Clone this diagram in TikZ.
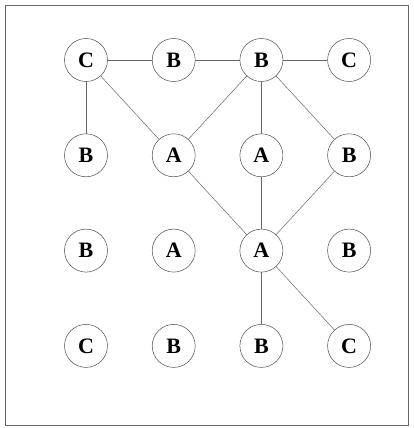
\documentclass[tikz,border=0pt]{standalone}
\usepackage{fontspec}
\setmainfont{Liberation Serif}
\begin{document}
\begin{tikzpicture}[x=1pt,y=-1pt,
  cell/.style={circle,draw=black!70,line width=0.5pt,minimum size=43pt,inner sep=0pt,
    font=\fontsize{22}{24}\selectfont\bfseries},
  link/.style={draw=black!60,line width=0.5pt}]
  \useasboundingbox (0,0) rectangle (414,428);
  \draw[black!60,line width=0.8pt] (5,5) rectangle (408,425);
  % grid of cells, row by row
  \foreach \lab [count=\i from 0] in {C,B,B,C, B,A,A,B, B,A,A,B, C,B,B,C}
  {
    \pgfmathtruncatemacro{\cx}{mod(\i,4)}
    \pgfmathtruncatemacro{\cy}{div(\i,4)}
    \node[cell] (n\cx\cy) at (86+87.7*\cx,60+95.3*\cy) {\lab};
  }
  % connections
  \foreach \a/\b in {n00/n10,n10/n20,n20/n30,n00/n01,n00/n11,n20/n11,n20/n21,
                     n20/n31,n11/n22,n21/n22,n31/n22,n22/n23,n22/n33}
    \draw[link] (\a) -- (\b);
\end{tikzpicture}
\end{document}
